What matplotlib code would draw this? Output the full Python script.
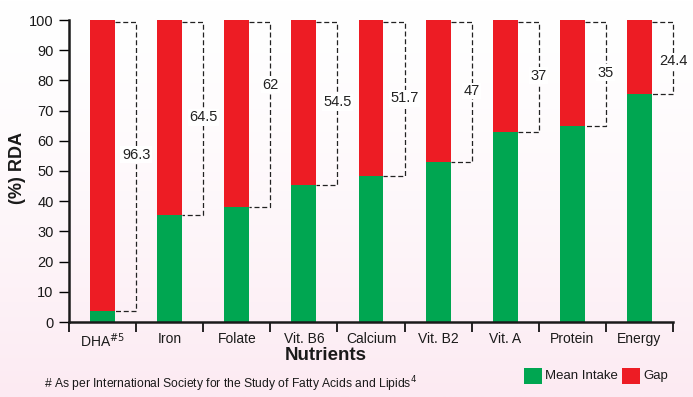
"""RDA gap chart: mean intake vs gap per nutrient."""

import numpy as np
import matplotlib.pyplot as plt
from matplotlib.patches import Rectangle

nutrients = ["DHA$^{\\#5}$", "Iron", "Folate", "Vit. B6", "Calcium",
             "Vit. B2", "Vit. A", "Protein", "Energy"]
mean_intake = [3.7, 35.5, 38.0, 45.5, 48.3, 53.0, 63.0, 65.0, 75.6]
gap = [96.3, 64.5, 62.0, 54.5, 51.7, 47.0, 37.0, 35.0, 24.4]
gap_labels = ["96.3", "64.5", "62", "54.5", "51.7", "47", "37", "35", "24.4"]
label_shift = [3.5, 0, 9.5, 0, 0, 0, 0, 0, -1.5]  # hand-placed labels in the original

GREEN = "#00a651"
RED = "#ed1c24"
INK = "#1a1a1a"
FONT = ["Liberation Sans", "DejaVu Sans"]

fig = plt.figure(figsize=(6.93, 3.97), dpi=100)

# white-to-pink background gradient
bg = fig.add_axes([0, 0, 1, 1], zorder=-10)
grad = np.linspace(0, 1, 256)[:, None]
top = np.array([1.0, 1.0, 1.0])
bottom = np.array([252, 234, 242]) / 255
img = top + (bottom - top) * grad[..., None] ** 1.5
bg.imshow(img, aspect="auto", extent=[0, 1, 0, 1])
bg.set_axis_off()

ax = fig.add_axes([69 / 693, 1 - 322 / 397, 604 / 693, 302 / 397])
ax.patch.set_alpha(0)
x = np.arange(len(nutrients))
w = 0.37
ax.bar(x, mean_intake, width=w, color=GREEN, label="Mean Intake", zorder=2)
ax.bar(x, gap, width=w, bottom=mean_intake, color=RED, label="Gap", zorder=2)

for xi, base, g, lab, sh in zip(x, mean_intake, gap, gap_labels, label_shift):
    xr = xi + w / 2
    xb = xi + 0.5
    top_y = base + g - 0.5
    ax.plot([xr, xb, xb, xr], [top_y, top_y, base, base], color="#222222",
            lw=0.9, ls=(0, (4, 2.2)), zorder=1, clip_on=False)
    ax.text(xb, base + g / 2 + sh, lab, ha="center", va="center", fontsize=10.5,
            family=FONT, color="#222222", zorder=3,
            bbox=dict(facecolor="white", edgecolor="none", pad=1.0))

ax.set_xlim(-0.5, len(nutrients) - 0.5)
ax.set_ylim(0, 100)
ax.set_yticks(range(0, 101, 10))
ax.set_xticks(x)
ax.set_xticklabels(nutrients, family=FONT, fontsize=10, color=INK)
ax.set_xticks(np.arange(-0.5, len(nutrients)), minor=True)
ax.tick_params(axis="x", which="major", length=0, pad=7)
ax.tick_params(axis="x", which="minor", length=7, width=1.2, direction="out")
ax.tick_params(axis="y", length=7, width=1.0, direction="out", pad=4)
for t in ax.get_yticklabels():
    t.set_family(FONT)
    t.set_fontsize(10.5)
    t.set_color(INK)
for s in ["top", "right"]:
    ax.spines[s].set_visible(False)
for s in ["left", "bottom"]:
    ax.spines[s].set_linewidth(1.8)
    ax.spines[s].set_color(INK)

fig.text(326 / 693, 1 - 355 / 397, "Nutrients", ha="center", va="center",
         fontsize=13.5, fontweight="bold", family=FONT, color=INK)
fig.text(17 / 693, 1 - 168 / 397, "(%) RDA", ha="center", va="center",
         rotation=90, fontsize=13, fontweight="bold", family=FONT, color=INK)
fig.text(44 / 693, 1 - 384 / 397,
         "# As per International Society for the Study of Fatty Acids and Lipids$^{4}$",
         ha="left", va="center", fontsize=8.7, family=FONT, color=INK)

# legend squares
for x0, col, lab in [(524, GREEN, "Mean Intake"), (622, RED, "Gap")]:
    fig.patches.append(Rectangle((x0 / 693, 1 - 384 / 397), 18 / 693, 16 / 397,
                                 transform=fig.transFigure, facecolor=col,
                                 edgecolor="none"))
    fig.text((x0 + 21) / 693, 1 - 376 / 397, lab, ha="left", va="center",
             fontsize=9.5, family=FONT, color=INK)

fig.savefig("out.png", dpi=100)
